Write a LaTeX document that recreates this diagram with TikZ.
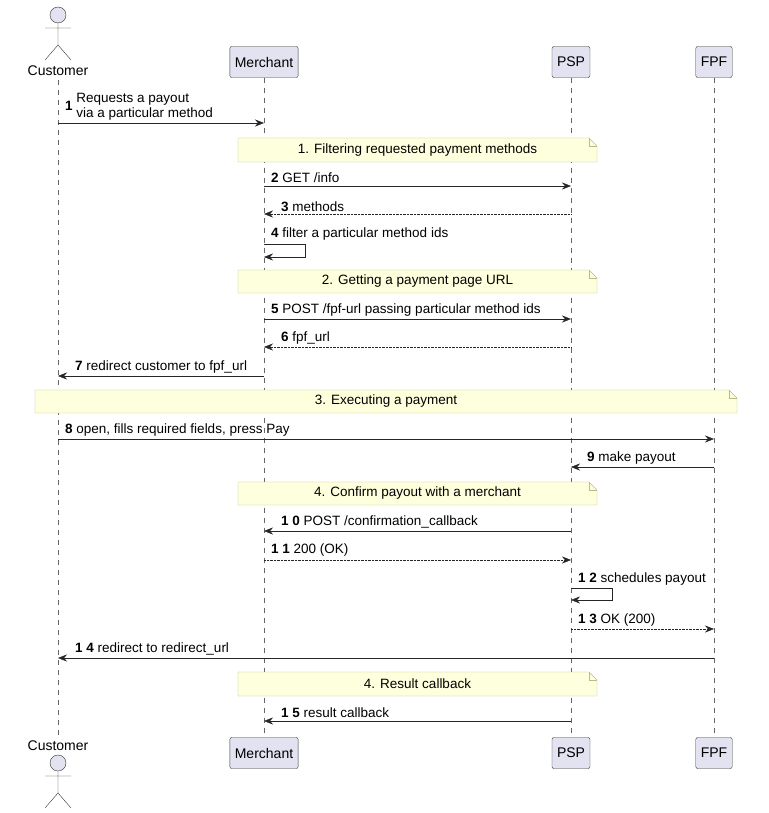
\documentclass[tikz,border=0pt]{standalone}
\usepackage{fontspec}
\setmainfont{Liberation Sans}
\usetikzlibrary{arrows.meta,positioning}
\definecolor{partfill}{HTML}{E2E2F0}
\definecolor{notefill}{HTML}{FEFFDD}
\definecolor{noteline}{HTML}{BBBB88}
\tikzset{
  part/.style={draw=black!80,fill=partfill,rounded corners=2pt,minimum height=31pt,inner xsep=5pt,font=\fontsize{14}{16}\selectfont},
  life/.style={dashed,draw=black!60,dash pattern=on 5pt off 5pt},
  msg/.style={-{Stealth[length=9pt,width=7pt,inset=3pt]},draw=black!85},
  ret/.style={msg,densely dotted},
  lbl/.style={font=\fontsize{13.5}{15}\selectfont,inner sep=1pt,anchor=south west},
  notetxt/.style={font=\fontsize{13.5}{15}\selectfont}
}
\newcommand{\notebox}[5]{% x1,y1,x2,y2,text
  \fill[notefill,draw=noteline] (#1,#2) -- (#3-8,#2) -- (#3,#2+8) -- (#3,#4) -- (#1,#4) -- cycle;
  \draw[noteline] (#3-8,#2) -- (#3-8,#2+8) -- (#3,#2+8);
  \node[notetxt] at ({(#1+#3)/2},{(#2+#4)/2}) {#5};}
\newcommand{\actor}[2]{% x, head y
  \draw[black!80,fill=partfill] (#1,#2) circle (8);
  \draw[black!80] (#1,#2+8) -- (#1,#2+30) (#1-13,#2+13) -- (#1+13,#2+13)
    (#1-13,#2+45) -- (#1,#2+30) -- (#1+13,#2+45);}
\begin{document}
\begin{tikzpicture}[x=1pt,y=-1pt]
\useasboundingbox (0,0) rectangle (768,813);
% participants
\actor{58}{15}
\node[font=\fontsize{14}{16}\selectfont] (cust) at (58,71) {Customer};
\node[part] (merch) at (264,62) {Merchant};
\node[part] (psp) at (571,62) {PSP};
\node[part] (fpf) at (714,62) {FPF};
\node[font=\fontsize{14}{16}\selectfont] (custb) at (58,746) {Customer};
\actor{58}{763}
\node[part] (merchb) at (264,753) {Merchant};
\node[part] (pspb) at (571,753) {PSP};
\node[part] (fpfb) at (714,753) {FPF};
% lifelines
\draw[life] (58,80) -- (58,737);
\draw[life] (merch) -- (merchb);
\draw[life] (psp) -- (pspb);
\draw[life] (fpf) -- (fpfb);
\coordinate (C) at (58,0);
\coordinate (M) at (264,0);
\coordinate (P) at (571,0);
\coordinate (F) at (714,0);
% messages
\draw[msg] (C|-0,123) -- (M|-0,123);
\node[lbl,anchor=west] at (64,107) {\textbf{1}\ \begin{tabular}{@{}l@{}}Requests a payout\\via a particular method\end{tabular}};
\notebox{238}{138}{597}{162}{1. Filtering requested payment methods}
\draw[msg] (M|-0,186) -- (P|-0,186);
\node[lbl] at (270,184) {\textbf{2} GET /info};
\draw[ret] (P|-0,214) -- (M|-0,214);
\node[lbl] at (280,213) {\textbf{3} methods};
\draw[msg] (M|-0,244) -- (305,244) -- (305,257) -- (M|-0,257);
\node[lbl] at (270,242) {\textbf{4} filter a particular method ids};
\notebox{238}{270}{597}{293}{2. Getting a payment page URL}
\draw[msg] (M|-0,319) -- (P|-0,319);
\node[lbl] at (270,317) {\textbf{5} POST /fpf-url passing particular method ids};
\draw[ret] (P|-0,347) -- (M|-0,347);
\node[lbl] at (280,345) {\textbf{6} fpf\_url};
\draw[msg] (M|-0,376) -- (C|-0,376);
\node[lbl] at (74,374) {\textbf{7} redirect customer to fpf\_url};
\notebox{35}{390}{737}{413}{3. Executing a payment}
\draw[msg] (C|-0,439) -- (F|-0,439);
\node[lbl] at (64,437) {\textbf{8} open, fills required fields, press Pay};
\draw[msg] (F|-0,467) -- (P|-0,467);
\node[lbl] at (586,465) {\textbf{9} make payout};
\notebox{238}{482}{597}{505}{4. Confirm payout with a merchant}
\draw[msg] (P|-0,531) -- (M|-0,531);
\node[lbl] at (280,529) {\textbf{1 0} POST /confirmation\_callback};
\draw[ret] (M|-0,560) -- (P|-0,560);
\node[lbl] at (270,557) {\textbf{1 1} 200 (OK)};
\draw[msg] (P|-0,588) -- (612,588) -- (612,600) -- (P|-0,600);
\node[lbl] at (577,586) {\textbf{1 2} schedules payout};
\draw[ret] (P|-0,629) -- (F|-0,629);
\node[lbl] at (577,627) {\textbf{1 3} OK (200)};
\draw[msg] (F|-0,658) -- (C|-0,658);
\node[lbl] at (74,656) {\textbf{1 4} redirect to redirect\_url};
\notebox{238}{672}{597}{696}{4. Result callback}
\draw[msg] (P|-0,721) -- (M|-0,721);
\node[lbl] at (280,719) {\textbf{1 5} result callback};
\end{tikzpicture}
\end{document}
